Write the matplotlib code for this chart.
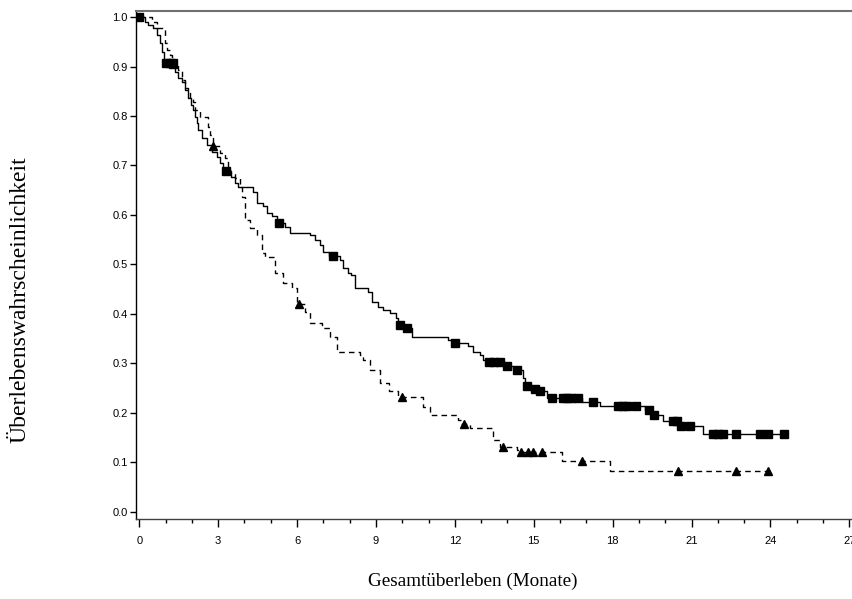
import numpy as np
import matplotlib
matplotlib.use('Agg')
import matplotlib.pyplot as plt
from matplotlib.ticker import MultipleLocator, FormatStrFormatter

# ---- Data ----
# Group 1 (solid line, censored marks = squares)
g1_times = [0, 0.22, 0.33, 0.52, 0.68, 0.80, 0.87, 0.95, 1.36, 1.48, 1.63, 1.74,
            1.86, 1.96, 2.05, 2.12, 2.2, 2.25, 2.38, 2.57, 2.77, 2.96, 3.08, 3.2,
            3.5, 3.64, 3.76, 4.33, 4.48, 4.70, 4.86, 5.05, 5.24, 5.28, 5.54, 5.73,
            6.5, 6.68, 6.88, 7.0, 7.2, 7.63, 7.75, 7.94, 8.05, 8.2, 8.7, 8.85,
            9.07, 9.26, 9.53, 9.75, 9.85, 10.15, 10.37, 11.75, 11.9, 12.5, 12.7,
            12.96, 13.08, 13.25, 13.9, 14.2, 14.6, 14.67, 14.9, 15.2, 15.5, 16.85,
            17.5, 19.24, 19.5, 19.9, 20.55, 21.45]
g1_surv = [1.0, 0.99, 0.984, 0.978, 0.964, 0.947, 0.93, 0.907, 0.889, 0.877, 0.869,
           0.857, 0.836, 0.822, 0.812, 0.798, 0.785, 0.772, 0.756, 0.741, 0.727,
           0.717, 0.705, 0.689, 0.677, 0.665, 0.657, 0.646, 0.624, 0.619, 0.604,
           0.597, 0.590, 0.584, 0.576, 0.564, 0.560, 0.550, 0.539, 0.525, 0.517,
           0.509, 0.493, 0.483, 0.479, 0.452, 0.444, 0.424, 0.414, 0.408, 0.402,
           0.392, 0.378, 0.372, 0.354, 0.347, 0.341, 0.334, 0.323, 0.317, 0.307,
           0.302, 0.295, 0.287, 0.27, 0.253, 0.248, 0.243, 0.23, 0.222, 0.214,
           0.206, 0.196, 0.184, 0.173, 0.157]
g1_end = 24.5
g1_censor = [0.0, 1.0, 1.15, 1.3, 3.3, 5.32, 7.37, 9.9, 10.18, 12.0, 13.3, 13.5,
             13.7, 14.0, 14.37, 14.75, 15.05, 15.25, 15.7, 16.1, 16.25, 16.4, 16.7,
             17.25, 18.2, 18.4, 18.55, 18.9, 19.4, 19.58, 20.3, 20.45, 20.6, 20.95,
             21.8, 22.0, 22.2, 22.7, 23.6, 23.9, 24.5]

# Group 2 (dashed line, censored marks = triangles)
g2_times = [0, 0.5, 0.68, 0.98, 1.05, 1.17, 1.25, 1.47, 1.63, 1.74, 1.93, 2.05,
            2.12, 2.31, 2.62, 2.7, 2.8, 3.08, 3.27, 3.38, 3.45, 3.64, 3.83, 3.9,
            4.03, 4.2, 4.48, 4.67, 4.79, 5.16, 5.47, 5.8, 6.0, 6.3, 6.5, 6.95, 7.25,
            7.5, 8.39, 8.5, 8.77, 9.15, 9.5, 9.85, 10.8, 11.05, 12.1, 12.25, 12.57,
            13.46, 13.7, 14.36, 14.5, 16.08, 17.9]
g2_surv = [1.0, 0.99, 0.978, 0.947, 0.933, 0.923, 0.905, 0.893, 0.873, 0.852,
           0.836, 0.828, 0.812, 0.798, 0.778, 0.762, 0.74, 0.725, 0.715, 0.697,
           0.685, 0.675, 0.657, 0.636, 0.59, 0.574, 0.56, 0.523, 0.515, 0.483,
           0.462, 0.452, 0.42, 0.404, 0.382, 0.372, 0.354, 0.323, 0.317, 0.307,
           0.287, 0.26, 0.243, 0.232, 0.212, 0.196, 0.186, 0.178, 0.17, 0.145,
           0.131, 0.125, 0.12, 0.103, 0.083]
g2_end = 23.9
g2_censor = [1.29, 2.81, 6.07, 10.0, 12.35, 13.84, 14.52, 14.78, 14.97, 15.3,
             16.85, 20.5, 22.7, 23.9]

x_ticks = [0, 3, 6, 9, 12, 15, 18, 21, 24, 27]
y_ticks = [0.0, 0.1, 0.2, 0.3, 0.4, 0.5, 0.6, 0.7, 0.8, 0.9, 1.0]
x_label = "Gesamtüberleben (Monate)"
y_label = "Überlebenswahrscheinlichkeit"


def step_value(times, surv, t):
    idx = np.searchsorted(np.asarray(times), np.asarray(t), side='right') - 1
    return np.asarray(surv)[idx]


fig = plt.figure(figsize=(8.52, 5.99), dpi=100)
ax = fig.add_axes([136 / 852, 1 - 519 / 599, 1 - 136 / 852, (519 - 10.7) / 599])

# Group 1
ax.step(np.append(g1_times, g1_end), np.append(g1_surv, g1_surv[-1]), where='post',
        color='black', lw=1.0)
ax.plot(g1_censor, step_value(g1_times, g1_surv, g1_censor), linestyle='none',
        marker='s', markersize=5.8, color='black')

# Group 2
ax.step(np.append(g2_times, g2_end), np.append(g2_surv, g2_surv[-1]), where='post',
        color='black', lw=1.0, linestyle=(0, (4, 3)))
ax.plot(g2_censor, step_value(g2_times, g2_surv, g2_censor), linestyle='none',
        marker='^', markersize=6, color='black')

ax.set_xlim(-0.125, 27.1)
ax.set_ylim(-0.015, 1.013)
ax.set_xticks(x_ticks)
ax.set_xticklabels([str(v) for v in x_ticks])
ax.xaxis.set_minor_locator(MultipleLocator(1))
ax.set_yticks(y_ticks)
ax.yaxis.set_major_formatter(FormatStrFormatter('%.1f'))

ax.spines['right'].set_visible(False)
ax.spines['top'].set_color('#707070')
ax.spines['top'].set_linewidth(1.5)
ax.spines['left'].set_color('black')
ax.spines['bottom'].set_color('#404040')
ax.spines['left'].set_linewidth(1.0)
ax.spines['bottom'].set_linewidth(1.0)

ax.tick_params(axis='x', which='major', length=6, width=1, pad=6, labelsize=8,
               colors='black')
ax.tick_params(axis='x', which='minor', length=3, width=1)
ax.tick_params(axis='y', which='major', length=4, width=1, pad=2, labelsize=8)
for lab in ax.get_xticklabels() + ax.get_yticklabels():
    lab.set_family('Liberation Sans')

fig.text(20 / 852, 1 - 300 / 599, y_label, rotation=90, ha='center', va='center',
         family='Liberation Serif', fontsize=17)
fig.text(473 / 852, 1 - 581 / 599, x_label, ha='center', va='center',
         family='Liberation Serif', fontsize=13.8)

fig.savefig('out.png', dpi=100)
